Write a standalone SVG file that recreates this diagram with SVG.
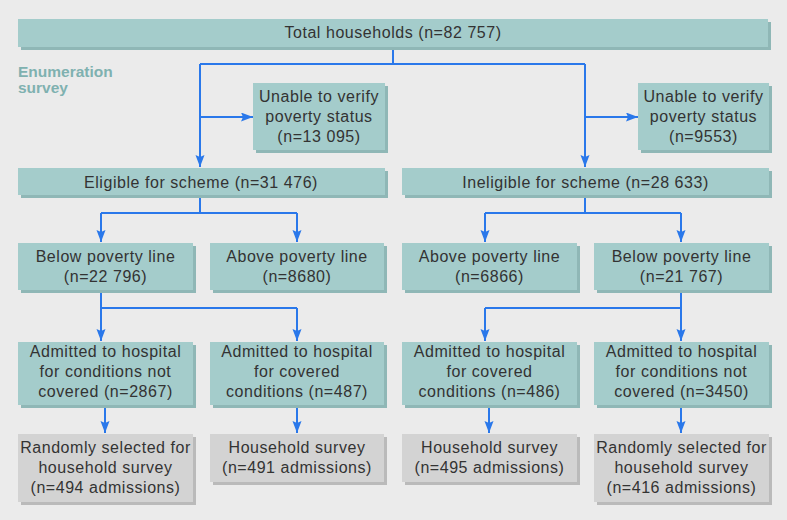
<svg xmlns="http://www.w3.org/2000/svg" width="787" height="520" viewBox="0 0 787 520">
<style>
.bg{fill:#ebebeb}
.tb{fill:#a4cccb}
.ts{fill:#8fb7b6}
.gb{fill:#d3d3d3}
.gs{fill:#bababa}
.t{font-family:"Liberation Sans",Arial,sans-serif;font-size:16px;letter-spacing:0.55px;fill:#333;text-anchor:middle}
.lab{font-family:"Liberation Sans",Arial,sans-serif;font-size:15.5px;font-weight:bold;fill:#7fb1b0}
.c{fill:none;stroke:#2a78ea;stroke-width:2}
</style>
<defs>
<marker id="ah" markerUnits="userSpaceOnUse" markerWidth="12" markerHeight="10" refX="12" refY="4.5" orient="auto">
<path d="M0,0 L12,4.5 L0,9 L2,4.5 Z" fill="#2a78ea"/>
</marker>
</defs>
<rect class="bg" x="0" y="0" width="787" height="520"/>
<text class="lab" x="18" y="77">Enumeration</text>
<text class="lab" x="18" y="93">survey</text>

<g id="connectors">
<path class="c" d="M393,47 V64 M200,64 H585"/>
<path class="c" d="M200,64 V167" marker-end="url(#ah)"/>
<path class="c" d="M585,64 V167" marker-end="url(#ah)"/>
<path class="c" d="M200,117 H253" marker-end="url(#ah)"/>
<path class="c" d="M585,117 H638" marker-end="url(#ah)"/>
<path class="c" d="M200,195 V213 M101,213 H297"/>
<path class="c" d="M101,213 V242" marker-end="url(#ah)"/>
<path class="c" d="M297,213 V242" marker-end="url(#ah)"/>
<path class="c" d="M585,195 V213 M485,213 H681"/>
<path class="c" d="M485,213 V242" marker-end="url(#ah)"/>
<path class="c" d="M681,213 V242" marker-end="url(#ah)"/>
<path class="c" d="M101,290 V308 H297"/>
<path class="c" d="M101,308 V341" marker-end="url(#ah)"/>
<path class="c" d="M297,308 V341" marker-end="url(#ah)"/>
<path class="c" d="M681,290 V308 H485"/>
<path class="c" d="M681,308 V341" marker-end="url(#ah)"/>
<path class="c" d="M485,308 V341" marker-end="url(#ah)"/>
<path class="c" d="M105,405 V433" marker-end="url(#ah)"/>
<path class="c" d="M297,405 V433" marker-end="url(#ah)"/>
<path class="c" d="M489,405 V433" marker-end="url(#ah)"/>
<path class="c" d="M681,405 V433" marker-end="url(#ah)"/>
</g>

<g id="total">
<rect class="ts" x="21" y="22" width="750" height="28"/>
<rect class="tb" x="18" y="19" width="750" height="28"/>
<text class="t" x="393" y="38">Total households (n=82 757)</text>
</g>
<g id="unable1">
<rect class="ts" x="256" y="86" width="132" height="67"/>
<rect class="tb" x="253" y="83" width="132" height="67"/>
<text class="t" x="319" y="102">Unable to verify</text>
<text class="t" x="319" y="122">poverty status</text>
<text class="t" x="319" y="142">(n=13 095)</text>
</g>
<g id="unable2">
<rect class="ts" x="641" y="86" width="131" height="67"/>
<rect class="tb" x="638" y="83" width="131" height="67"/>
<text class="t" x="703.5" y="102">Unable to verify</text>
<text class="t" x="703.5" y="122">poverty status</text>
<text class="t" x="703.5" y="142">(n=9553)</text>
</g>
<g id="eligible">
<rect class="ts" x="21" y="171" width="367" height="27"/>
<rect class="tb" x="18" y="168" width="367" height="27"/>
<text class="t" x="201" y="188">Eligible for scheme (n=31 476)</text>
</g>
<g id="ineligible">
<rect class="ts" x="405" y="171" width="367" height="27"/>
<rect class="tb" x="402" y="168" width="367" height="27"/>
<text class="t" x="585.5" y="188">Ineligible for scheme (n=28 633)</text>
</g>
<g id="below1">
<rect class="ts" x="21" y="246" width="175" height="47"/>
<rect class="tb" x="18" y="243" width="175" height="47"/>
<text class="t" x="105.5" y="262">Below poverty line</text>
<text class="t" x="105.5" y="282">(n=22 796)</text>
</g>
<g id="above1">
<rect class="ts" x="213" y="246" width="174" height="47"/>
<rect class="tb" x="210" y="243" width="174" height="47"/>
<text class="t" x="297" y="262">Above poverty line</text>
<text class="t" x="297" y="282">(n=8680)</text>
</g>
<g id="above2">
<rect class="ts" x="405" y="246" width="175" height="47"/>
<rect class="tb" x="402" y="243" width="175" height="47"/>
<text class="t" x="489.5" y="262">Above poverty line</text>
<text class="t" x="489.5" y="282">(n=6866)</text>
</g>
<g id="below2">
<rect class="ts" x="597" y="246" width="175" height="47"/>
<rect class="tb" x="594" y="243" width="175" height="47"/>
<text class="t" x="681.5" y="262">Below poverty line</text>
<text class="t" x="681.5" y="282">(n=21 767)</text>
</g>
<g id="adm1">
<rect class="ts" x="21" y="345" width="175" height="63"/>
<rect class="tb" x="18" y="342" width="175" height="63"/>
<text class="t" x="105.5" y="357">Admitted to hospital</text>
<text class="t" x="105.5" y="377">for conditions not</text>
<text class="t" x="105.5" y="397">covered (n=2867)</text>
</g>
<g id="adm2">
<rect class="ts" x="213" y="345" width="174" height="63"/>
<rect class="tb" x="210" y="342" width="174" height="63"/>
<text class="t" x="297" y="357">Admitted to hospital</text>
<text class="t" x="297" y="377">for covered</text>
<text class="t" x="297" y="397">conditions (n=487)</text>
</g>
<g id="adm3">
<rect class="ts" x="405" y="345" width="175" height="63"/>
<rect class="tb" x="402" y="342" width="175" height="63"/>
<text class="t" x="489.5" y="357">Admitted to hospital</text>
<text class="t" x="489.5" y="377">for covered</text>
<text class="t" x="489.5" y="397">conditions (n=486)</text>
</g>
<g id="adm4">
<rect class="ts" x="597" y="345" width="175" height="63"/>
<rect class="tb" x="594" y="342" width="175" height="63"/>
<text class="t" x="681.5" y="357">Admitted to hospital</text>
<text class="t" x="681.5" y="377">for conditions not</text>
<text class="t" x="681.5" y="397">covered (n=3450)</text>
</g>
<g id="survey1">
<rect class="gs" x="21" y="437" width="175" height="68"/>
<rect class="gb" x="18" y="434" width="175" height="68"/>
<text class="t" x="105.5" y="453">Randomly selected for</text>
<text class="t" x="105.5" y="473">household survey</text>
<text class="t" x="105.5" y="493">(n=494 admissions)</text>
</g>
<g id="survey2">
<rect class="gs" x="213" y="437" width="174" height="48"/>
<rect class="gb" x="210" y="434" width="174" height="48"/>
<text class="t" x="297" y="453">Household survey</text>
<text class="t" x="297" y="473">(n=491 admissions)</text>
</g>
<g id="survey3">
<rect class="gs" x="405" y="437" width="175" height="48"/>
<rect class="gb" x="402" y="434" width="175" height="48"/>
<text class="t" x="489.5" y="453">Household survey</text>
<text class="t" x="489.5" y="473">(n=495 admissions)</text>
</g>
<g id="survey4">
<rect class="gs" x="597" y="437" width="175" height="68"/>
<rect class="gb" x="594" y="434" width="175" height="68"/>
<text class="t" x="681.5" y="453">Randomly selected for</text>
<text class="t" x="681.5" y="473">household survey</text>
<text class="t" x="681.5" y="493">(n=416 admissions)</text>
</g>
</svg>
